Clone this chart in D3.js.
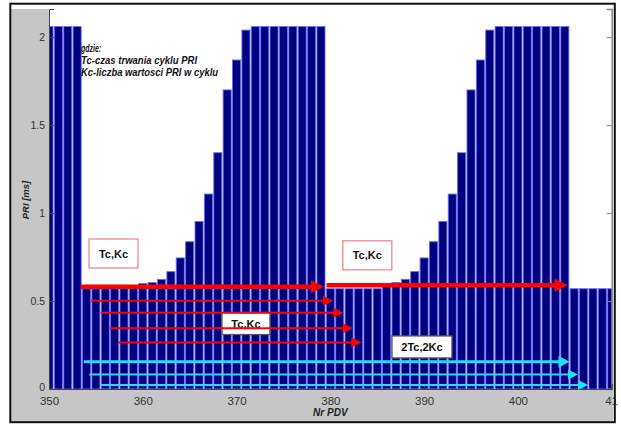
<!DOCTYPE html>
<html>
<head>
<meta charset="utf-8">
<script src="https://cdn.jsdelivr.net/npm/d3@7"></script>
<style>
  body { margin: 0; background: #fff; }
  svg { display: block; }
  text { font-family: "Liberation Sans", Arial, sans-serif; }
</style>
</head>
<body>
<svg id="chart" width="621" height="424"></svg>
<script>
// PDV numbers (x categories)
const pdvNumbers = [
  350, 351, 352, 353, 354, 355, 356, 357, 358, 359,
  360, 361, 362, 363, 364, 365, 366, 367, 368, 369,
  370, 371, 372, 373, 374, 375, 376, 377, 378, 379,
  380, 381, 382, 383, 384, 385, 386, 387, 388, 389,
  390, 391, 392, 393, 394, 395, 396, 397, 398, 399,
  400, 401, 402, 403, 404, 405, 406, 407, 408, 409, 410
];

// PRI value for each PDV [ms]
const priValues = [
  2.06, 2.06, 2.06, 2.06, 0.57, 0.57, 0.57, 0.57, 0.57, 0.57,
  0.60, 0.605, 0.623, 0.667, 0.745, 0.837, 0.952, 1.108, 1.343, 1.70,
  1.87, 2.04, 2.06, 2.06, 2.06, 2.06, 2.06, 2.06, 2.06, 2.06,
  0.57, 0.57, 0.57, 0.57, 0.57, 0.57, 0.60, 0.605, 0.623, 0.667,
  0.745, 0.837, 0.952, 1.108, 1.343, 1.70, 1.87, 2.04, 2.06, 2.06,
  2.06, 2.06, 2.06, 2.06, 2.06, 2.06, 0.57, 0.57, 0.57, 0.57, 0.57
];

const xTicks = [350, 360, 370, 380, 390, 400, 410];
const yTicks = [0, 0.5, 1, 1.5, 2];

// One-cycle spans (Tc,Kc): start PDV, end PDV, PRI level
const cycleStart = [353.4, 379.6];
const cycleEnd   = [379.3, 405.3];
const cycleLevel = [0.581, 0.59];

// Shifted one-cycle spans
const shiftStart = [354.5, 355.5, 356.5, 357.4];
const shiftEnd   = [380.3, 381.4, 382.4, 383.3];
const shiftLevel = [0.502, 0.434, 0.345, 0.265];

// Two-cycle spans (2Tc,2Kc)
const doubleStart = [353.7, 354.3, 355.5];
const doubleEnd   = [405.5, 406.4, 407.5];
const doubleLevel = [0.155, 0.083, 0.023];

const legendLines = ["gdzie:", "Tc-czas trwania cyklu PRI", "Kc-liczba wartosci PRI w cyklu"];

const svg = d3.select("#chart");
const W = 621, H = 424;
const plot = { left: 49, right: 611.7, top: 9, bottom: 389 };

const x = d3.scaleLinear().domain([350, 410]).range([plot.left, plot.right]);
const y = d3.scaleLinear().domain([0, 2.16]).range([plot.bottom, plot.top]);

// figure background: grey margins on the left and bottom
svg.append("rect").attr("x", 0).attr("y", 0).attr("width", W).attr("height", H).attr("fill", "#fff");
svg.append("path")
  .attr("d", `M11,${plot.top} H${plot.left} V${plot.bottom} H613 V422 H11 Z`)
  .attr("fill", "#c6c6c6");

// clip for the plot area
svg.append("clipPath").attr("id", "plotClip")
  .append("rect")
  .attr("x", plot.left).attr("y", plot.top)
  .attr("width", plot.right - plot.left).attr("height", plot.bottom - plot.top);

// bars
const unit = x(351) - x(350);
const barW = unit * 0.86;
svg.append("g").attr("clip-path", "url(#plotClip)")
  .selectAll("rect")
  .data(pdvNumbers.map((n, i) => ({ n, v: priValues[i] })))
  .join("rect")
  .attr("x", d => x(d.n) - barW / 2)
  .attr("y", d => y(d.v))
  .attr("width", barW)
  .attr("height", d => y(0) - y(d.v))
  .attr("fill", "#00007e")
  .attr("stroke", "#6666ff")
  .attr("stroke-width", 0.9);

// axes
const yAxisL = d3.axisLeft(y).tickValues(yTicks).tickSize(-5).tickPadding(4)
  .tickFormat(d => d === 0 ? "0" : String(d));
const gL = svg.append("g").attr("transform", `translate(${plot.left},0)`).call(yAxisL);
gL.select(".domain").attr("stroke", "#444");
gL.selectAll(".tick line").attr("stroke", "#444");
gL.selectAll("text").attr("font-size", 10.5).attr("fill", "#333")
  .attr("font-family", "'Liberation Sans Narrow','Liberation Sans',Arial,sans-serif");
gL.selectAll(".tick").filter(d => d === 0).select("text").attr("dy", "0.1em");

const yAxisR = d3.axisRight(y).tickValues(yTicks).tickSize(-5).tickFormat("");
const gR = svg.append("g").attr("transform", `translate(${plot.right},0)`).call(yAxisR);
gR.select(".domain").attr("stroke", "#888").attr("stroke-width", 1.5);
gR.selectAll(".tick line").attr("stroke", "#888");

const xAxis = d3.axisBottom(x).tickValues(xTicks).tickSize(-5).tickPadding(8)
  .tickFormat(d => d === 410 ? "41" : String(d));
const gX = svg.append("g").attr("transform", `translate(0,${plot.bottom})`).call(xAxis);
gX.select(".domain").attr("stroke", "#444");
gX.selectAll(".tick line").attr("stroke", "#444");
gX.selectAll("text").attr("font-size", 11.5).attr("fill", "#333")
  .attr("font-family", "'Liberation Sans Narrow','Liberation Sans',Arial,sans-serif");
gX.selectAll(".tick").filter(d => d === 410).select("text").attr("text-anchor", "start").attr("dx", -7);

// axis titles
svg.append("text")
  .attr("x", (plot.left + plot.right) / 2).attr("y", 416)
  .attr("text-anchor", "middle")
  .attr("font-size", 10).attr("font-style", "italic").attr("font-weight", "bold").attr("fill", "#222")
  .text("Nr PDV");
svg.append("text")
  .attr("transform", "translate(29,200) rotate(-90)")
  .attr("text-anchor", "middle")
  .attr("font-size", 9.5).attr("font-style", "italic").attr("font-weight", "bold").attr("fill", "#222")
  .text("PRI [ms]");

// explanation text
const legendWidths = [20, 116, 137];
svg.append("g").selectAll("text")
  .data(legendLines)
  .join("text")
  .attr("x", x(353.42)).attr("y", (d, i) => 52 + i * 12)
  .attr("font-size", 10).attr("font-style", "italic").attr("font-weight", "bold").attr("fill", "#111")
  .attr("textLength", (d, i) => legendWidths[i]).attr("lengthAdjust", "spacingAndGlyphs")
  .text(d => d);

// label boxes
const boxes = [
  { cx: 356.88, cy: 0.77, w: 49, h: 29, text: "Tc,Kc", stroke: "#f08888" },
  { cx: 383.94, cy: 0.76, w: 49, h: 29, text: "Tc,Kc", stroke: "#f08888" },
  { cx: 371.0, cy: 0.372, w: 48, h: 22, text: "Tc,Kc", stroke: "#555" },
  { cx: 389.77, cy: 0.239, w: 60, h: 22, text: "2Tc,2Kc", stroke: "#555" }
];
const gb = svg.append("g");
boxes.forEach(b => {
  gb.append("rect")
    .attr("x", x(b.cx) - b.w / 2).attr("y", y(b.cy) - b.h / 2)
    .attr("width", b.w).attr("height", b.h)
    .attr("fill", "#fff").attr("stroke", b.stroke).attr("stroke-width", 1.3);
  gb.append("text")
    .attr("x", x(b.cx)).attr("y", y(b.cy) + 4)
    .attr("text-anchor", "middle")
    .attr("font-size", 11).attr("font-weight", "bold").attr("fill", "#111")
    .text(b.text);
});

// arrows
function drawArrows(starts, ends, levels, color, widths, headLen, headHalf) {
  const g = svg.append("g");
  starts.forEach((s, i) => {
    const x0 = x(s), x1 = x(ends[i]), yy = y(levels[i]);
    const L = headLen[i], hh = headHalf[i];
    g.append("line")
      .attr("x1", x0).attr("x2", x1 - L + 1).attr("y1", yy).attr("y2", yy)
      .attr("stroke", color).attr("stroke-width", widths[i]);
    g.append("path")
      .attr("d", `M${x1},${yy} L${x1 - L},${yy - hh} L${x1 - L},${yy + hh} Z`)
      .attr("fill", color);
  });
}
drawArrows(cycleStart, cycleEnd, cycleLevel, "#ff0000", [4.5, 4.5], [13, 13], [6.5, 6.5]);
drawArrows(shiftStart, shiftEnd, shiftLevel, "#ff0000", [2, 2, 2, 2], [10, 10, 10, 10], [5, 5, 5, 5]);
drawArrows(doubleStart, doubleEnd, doubleLevel, "#1fe0f6", [3, 2, 2], [11, 10, 10], [6, 5, 5]);

// outer frame
svg.append("rect")
  .attr("x", 10.3).attr("y", 3.7).attr("width", 604.5).attr("height", 418.5)
  .attr("fill", "none").attr("stroke", "#111").attr("stroke-width", 2);
</script>
</body>
</html>
